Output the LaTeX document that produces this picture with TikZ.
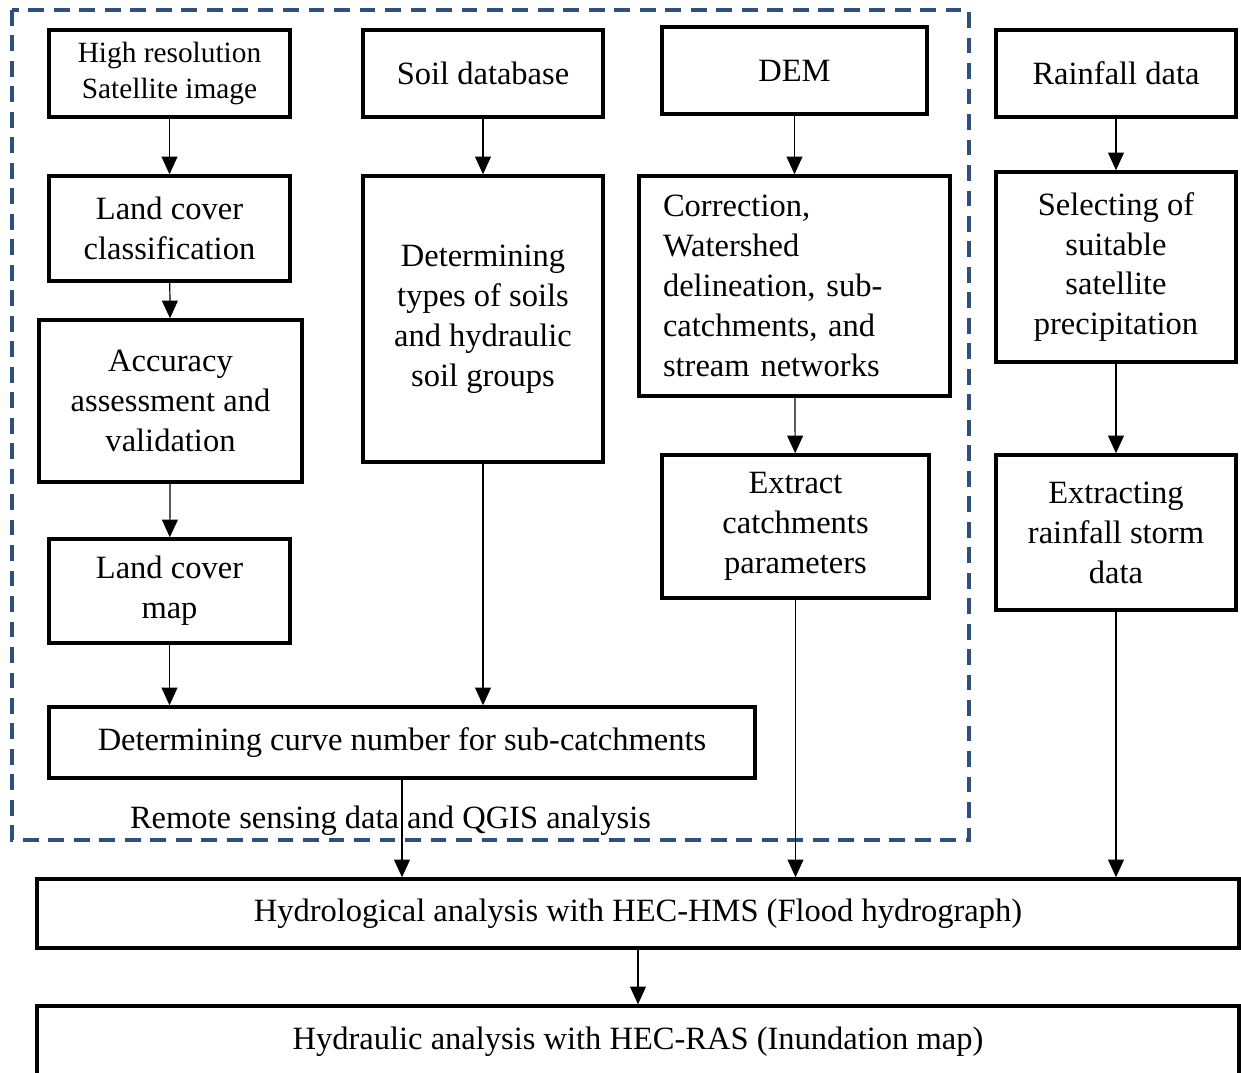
\documentclass[tikz,border=0pt]{standalone}
\usepackage{fontspec}
\setmainfont{Liberation Serif}
\usepackage{tikz}
\usetikzlibrary{arrows.meta,calc}
\definecolor{dashblue}{RGB}{47,79,127}

\begin{document}
\begin{tikzpicture}[
  box/.style={draw, line width=2pt, align=center, inner sep=0pt, font=\fontsize{18.5}{22.7}\selectfont},
  link/.style={-{Triangle[length=10pt,width=9pt]}, line width=0.7pt}]
\useasboundingbox (0,0) rectangle (24.82,-21.44);
% remote sensing frame
\draw [dashblue, line width=2pt, dash pattern=on 9pt off 5.5pt] (0.24,-0.20) rectangle (19.38,-16.80);
\node [font=\fontsize{18.5}{22.7}\selectfont] (rslabel) at (7.81,-16.42) {Remote sensing data and QGIS analysis};

\node [box, minimum width=4.82cm, minimum height=1.74cm, font=\fontsize{16.7}{21}\selectfont] (sat) at (3.39,-1.47) {High resolution\\Satellite image};
\node [box, minimum width=6.22cm, minimum height=4.40cm, text width=5.26cm, align=left] (corr) at (15.89,-5.72) {Correction,\\Watershed\\delineation, sub-\\catchments, and\\stream networks};
\foreach \name/\x/\y/\w/\h/\txt in {
  soil/9.66/-1.47/4.80/1.74/{Soil database},
  dem/15.89/-1.41/5.30/1.74/{DEM},
  rain/22.32/-1.47/4.80/1.74/{Rainfall data},
  lcc/3.39/-4.57/4.82/2.10/{Land cover\\classification},
  types/9.66/-6.38/4.80/5.72/{Determining\\types of soils\\and hydraulic\\soil groups},
  sel/22.32/-5.34/4.80/3.80/{Selecting of\\suitable\\satellite\\precipitation},
  acc/3.41/-8.02/5.26/3.24/{Accuracy\\assessment and\\validation},
  ext/15.91/-10.53/5.34/2.86/{Extract\\catchments\\parameters},
  exr/22.32/-10.65/4.80/3.10/{Extracting\\rainfall storm\\data},
  lcm/3.39/-11.82/4.82/2.08/{Land cover\\map},
  cn/8.04/-14.85/14.12/1.42/{Determining curve number for sub-catchments},
  hms/12.76/-18.27/24.04/1.38/{Hydrological analysis with HEC-HMS (Flood hydrograph)},
  ras/12.76/-20.84/24.04/1.44/{Hydraulic analysis with HEC-RAS (Inundation map)}}{
  \node [box, minimum width=\w cm, minimum height=\h cm] (\name) at (\x,\y) {\txt};
}

% arrows
\foreach \a/\b in {sat/lcc, lcc/acc, acc/lcm, soil/types, dem/corr, corr/ext, rain/sel, sel/exr, hms/ras}
  \draw [link] (\a) -- (\b);
\foreach \a/\b in {lcm/cn, types/cn, cn/hms, ext/hms, exr/hms}
  \draw [link] (\a.south) -- (\a.south |- \b.north);
\end{tikzpicture}
\end{document}
